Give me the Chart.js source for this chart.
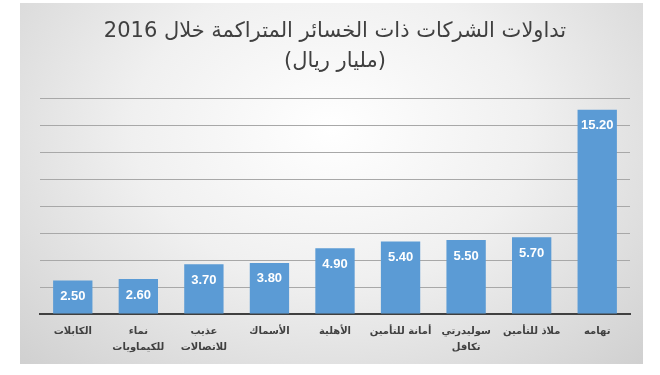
<!DOCTYPE html>
<html lang="ar">
<head>
<meta charset="UTF-8">
<title>تداولات الشركات</title>
<style>
  html, body { margin: 0; padding: 0; background: #fff; }
  #panel {
    position: absolute; left: 20px; top: 3px; width: 623px; height: 361px;
    background: radial-gradient(ellipse at 50% 35%, #ffffff 0%, #f0f0f0 45%, #d0d0d0 100%);
  }
</style>
</head>
<body>
<div id="panel"><canvas id="bars"></canvas></div>
<script src="https://cdn.jsdelivr.net/npm/chart.js"></script>
<script>
const companies = [
  'الكابلات',
  ['نماء', 'للكيماويات'],
  ['عذيب', 'للاتصالات'],
  'الأسماك',
  'الأهلية',
  'أمانة للتأمين',
  ['سوليدرتي', 'تكافل'],
  'ملاذ للتأمين',
  'تهامه'
];
const losses = [2.50, 2.60, 3.70, 3.80, 4.90, 5.40, 5.50, 5.70, 15.20];
const titleLines = ['تداولات الشركات ذات الخسائر المتراكمة خلال 2016', '(مليار ريال)'];

// write the value inside the top of each bar
const valueLabels = {
  id: 'valueLabels',
  afterDatasetsDraw(chart) {
    const ctx = chart.ctx;
    const meta = chart.getDatasetMeta(0);
    ctx.save();
    ctx.font = 'bold 13px "Liberation Sans", sans-serif';
    ctx.fillStyle = '#ffffff';
    ctx.textAlign = 'center';
    ctx.textBaseline = 'middle';
    meta.data.forEach((bar, i) => {
      ctx.fillText(losses[i].toFixed(2), bar.x, bar.y + 16);
    });
    ctx.restore();
  }
};

new Chart(document.getElementById('bars'), {
  type: 'bar',
  data: {
    labels: companies,
    datasets: [{
      data: losses,
      backgroundColor: '#5b9bd5',
      barPercentage: 0.6,
      categoryPercentage: 1
    }]
  },
  options: {
    responsive: true,
    maintainAspectRatio: false,
    animation: false,
    layout: { padding: { left: 20, right: 13, top: 0, bottom: 0 } },
    plugins: {
      legend: { display: false },
      tooltip: { enabled: false },
      title: {
        display: true,
        text: titleLines,
        color: '#404040',
        font: { family: '"DejaVu Sans", sans-serif', size: 21, weight: 'normal', lineHeight: 1.45 },
        padding: { top: 13, bottom: 22 }
      }
    },
    scales: {
      x: {
        grid: { display: false },
        border: { color: '#404040', width: 2 },
        afterFit(scale) { scale.height = 50; },
        ticks: {
          color: '#404040',
          padding: 2,
          autoSkip: false,
          maxRotation: 0,
          font: { family: '"DejaVu Sans", sans-serif', size: 10, weight: 'bold', lineHeight: 1.55 }
        }
      },
      y: {
        min: 0,
        max: 16,
        ticks: { stepSize: 2, display: false },
        border: { display: false },
        grid: { color: '#a8a8a8', drawTicks: false }
      }
    }
  },
  plugins: [valueLabels]
});
</script>
</body>
</html>
